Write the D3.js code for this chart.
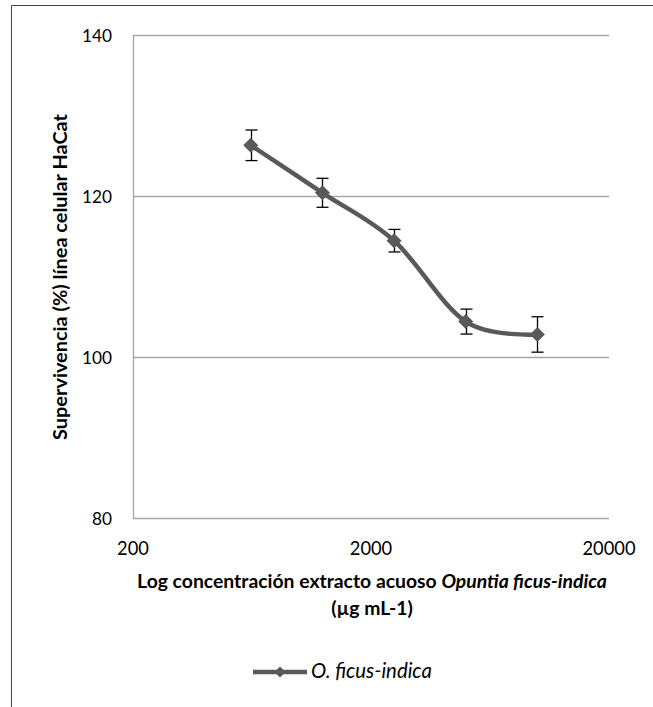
<!DOCTYPE html>
<html><head><meta charset="utf-8">
<script src="https://cdn.jsdelivr.net/npm/d3@7"></script>
<style>body{margin:0;background:#fff}svg{display:block;font-family:Lato,"Open Sans",sans-serif}</style>
</head><body><div id="chart"></div>
<script>
const concentrations = [625, 1250, 2500, 5000, 10000];
const survival = [126.3, 120.4, 114.45, 104.4, 102.8];
const errors = [1.9, 1.8, 1.4, 1.55, 2.2];
const xTicks = [200, 2000, 20000];
const yTicks = [80, 100, 120, 140];
const seriesName = "O. ficus-indica";

const W = 653, H = 707;
const svg = d3.select("#chart").append("svg").attr("width", W).attr("height", H);

// fit a text element's font-size so its width matches a target
function fit(sel, target) {
  const base = +sel.attr("font-size");
  const w = sel.node().getComputedTextLength();
  if (w > 0) sel.attr("font-size", (base * target / w).toFixed(2));
  return sel;
}

// outer frame (top and left visible)
svg.append("line").attr("x1",11.5).attr("x2",W).attr("y1",5.5).attr("y2",5.5).attr("stroke","#444").attr("stroke-width",1);
svg.append("line").attr("x1",11.5).attr("x2",11.5).attr("y1",5.5).attr("y2",H).attr("stroke","#444").attr("stroke-width",1);

const x = d3.scaleLog().domain([200, 20000]).range([133, 609]);
const y = d3.scaleLinear().domain([80, 140]).range([518, 35]);

// gridlines
svg.append("g").selectAll("line").data(yTicks).join("line")
  .attr("x1", 133).attr("x2", 609)
  .attr("y1", d => Math.round(y(d)) + 0.5).attr("y2", d => Math.round(y(d)) + 0.5)
  .attr("stroke", "#a6a6a6").attr("stroke-width", 1.3);

// y axis line
svg.append("line").attr("x1",133.5).attr("x2",133.5).attr("y1",y(140)).attr("y2",y(80)+0.5)
  .attr("stroke","#a6a6a6").attr("stroke-width",1.3);

// y tick labels
const yl = svg.append("g").selectAll("text").data(yTicks).join("text")
  .attr("x", 112).attr("y", d => y(d) + 7)
  .attr("text-anchor","end").attr("font-size",18).attr("fill","#000")
  .text(d => d);
const yl140 = yl.filter(d => d === 140);
const fsY = 18 * 30 / yl140.node().getComputedTextLength();
yl.attr("font-size", fsY.toFixed(2));

// x tick labels
const xl = svg.append("g").selectAll("text").data(xTicks).join("text")
  .attr("x", d => x(d)).attr("y", 555)
  .attr("text-anchor","middle").attr("font-size",18).attr("fill","#000")
  .text(d => d);
const xl20k = xl.filter(d => d === 20000);
const fsX = 18 * 53 / xl20k.node().getComputedTextLength();
xl.attr("font-size", fsX.toFixed(2));

// axis titles
const xt = svg.append("text").attr("x", 372).attr("y", 588).attr("text-anchor","middle")
  .attr("font-size",18).attr("font-weight","bold").attr("fill","#000");
xt.append("tspan").text("Log concentración extracto acuoso ");
xt.append("tspan").attr("font-style","italic").text("Opuntia ficus-indica");
fit(xt, 470);
svg.append("text").attr("x", 372).attr("y", 615).attr("text-anchor","middle")
  .attr("font-size", xt.attr("font-size")).attr("font-weight","bold").attr("fill","#000").text("(µg mL-1)");

const yt = svg.append("text").attr("transform","translate(67,277) rotate(-90)").attr("text-anchor","middle")
  .attr("font-size",18).attr("font-weight","bold").attr("fill","#000")
  .text("Supervivencia (%) línea celular HaCat");
fit(yt, 326);

const data = concentrations.map((c,i) => ({c, v: survival[i], e: errors[i]}));

// smoothed line
const line = d3.line().x(d => x(d.c)).y(d => y(d.v)).curve(d3.curveCardinal.tension(0));
svg.append("path").datum(data).attr("d", line).attr("fill","none")
  .attr("stroke","#595959").attr("stroke-width",4.5).attr("stroke-linejoin","round");

// error bars
const eb = svg.append("g").attr("stroke","#000").attr("stroke-width",1.3);
data.forEach(d => {
  const cx = Math.round(x(d.c)) + 0.5;
  eb.append("line").attr("x1",cx).attr("x2",cx).attr("y1",y(d.v+d.e)).attr("y2",y(d.v-d.e));
  eb.append("line").attr("x1",cx-6).attr("x2",cx+6).attr("y1",y(d.v+d.e)).attr("y2",y(d.v+d.e));
  eb.append("line").attr("x1",cx-6).attr("x2",cx+6).attr("y1",y(d.v-d.e)).attr("y2",y(d.v-d.e));
});

// diamond markers
const diamond = s => `M0,${-s}L${s},0L0,${s}L${-s},0Z`;
svg.append("g").selectAll("path").data(data).join("path")
  .attr("transform", d => `translate(${x(d.c)},${y(d.v)})`)
  .attr("d", diamond(7.5)).attr("fill","#595959");

// legend
svg.append("line").attr("x1",253).attr("x2",307).attr("y1",672).attr("y2",672)
  .attr("stroke","#595959").attr("stroke-width",4.5);
svg.append("path").attr("transform","translate(280,672)").attr("d", diamond(5.5)).attr("fill","#595959");
const lt = svg.append("text").attr("x",311).attr("y",678)
  .attr("font-size",16).attr("font-style","italic").attr("fill","#000").text(seriesName);
fit(lt, 121);
</script></body></html>
